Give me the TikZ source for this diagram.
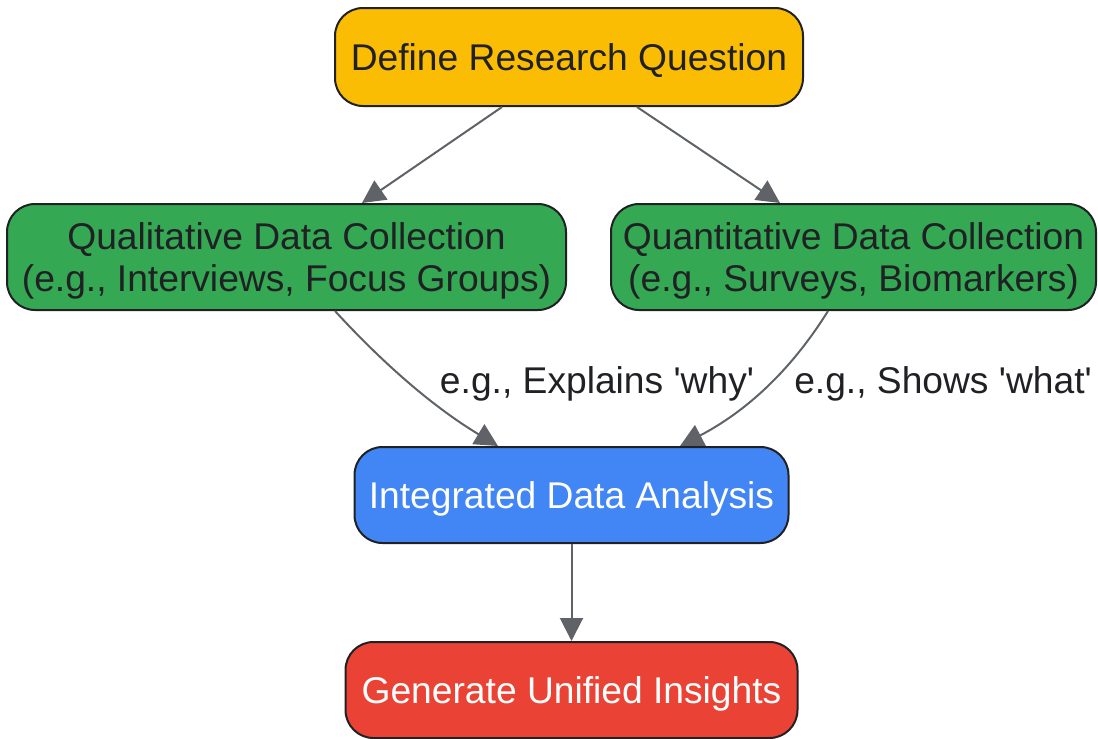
\documentclass[tikz,border=0pt]{standalone}
\usepackage{fontspec}
\setmainfont{Liberation Sans}[Ligatures=TeXOff]
\usetikzlibrary{arrows.meta,calc}
\definecolor{cyellow}{HTML}{FBBC04}
\definecolor{cgreen}{HTML}{34A853}
\definecolor{cblue}{HTML}{4285F4}
\definecolor{cred}{HTML}{EA4335}
\definecolor{cedge}{HTML}{5F6368}
\definecolor{ctext}{HTML}{202124}
\tikzset{
  box/.style={draw=ctext, line width=1pt, rounded corners=14pt, align=center,
    font=\fontsize{18.6pt}{21pt}\selectfont, text=ctext, inner sep=0pt, text depth=0pt},
  conn/.style={draw=cedge, line width=1pt, -{Triangle[length=11.5pt,width=11.5pt]}},
  lbl/.style={font=\fontsize{18.6pt}{21pt}\selectfont, text=ctext, inner sep=0pt}
}
\begin{document}
\begin{tikzpicture}[x=0.5pt,y=-0.5pt]
\useasboundingbox (0,0) rectangle (1098,739);
\node[box, fill=cyellow, minimum width=234pt, minimum height=49pt] (def) at (569,57) {Define Research Question};
\node[box, fill=cgreen, minimum width=279.5pt, minimum height=53pt] (qual) at (286.5,257) {Qualitative Data Collection\\(e.g., Interviews, Focus Groups)};
\node[box, fill=cgreen, minimum width=242.5pt, minimum height=53pt] (quant) at (853.5,257) {Quantitative Data Collection\\(e.g., Surveys, Biomarkers)};
\node[box, fill=cblue, text=white, minimum width=217pt, minimum height=48pt] (int) at (571.5,495) {Integrated Data Analysis};
\node[box, fill=cred, text=white, minimum width=226pt, minimum height=48pt] (gen) at (571.5,690) {Generate Unified Insights};
\node[lbl] (lwhy) at (597,384) {e.g., Explains 'why'};
\node[lbl] (lwhat) at (943,384) {e.g., Shows 'what'};
\draw[conn] ([xshift=-33.5pt]def.south) -- ([xshift=37.75pt]qual.north);
\draw[conn] ([xshift=34pt]def.south) -- ([xshift=-36.75pt]quant.north);
\draw[conn] ([xshift=24.25pt]qual.south) .. controls (380,360) and (430,405) .. ([xshift=-36.75pt]int.north);
\draw[conn] ([xshift=-12.75pt]quant.south) .. controls (790,372) and (745,412) .. ([xshift=54.25pt]int.north);
\draw[conn] (int.south) -- (gen.north);
\end{tikzpicture}
\end{document}
